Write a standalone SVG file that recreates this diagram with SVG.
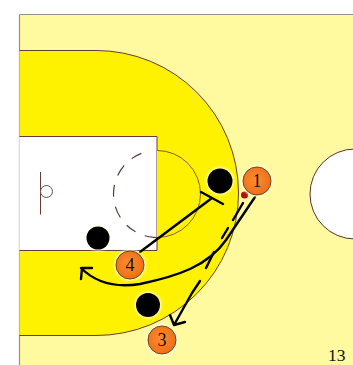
<svg xmlns="http://www.w3.org/2000/svg" width="353" height="365" viewBox="0 0 353 365">
<defs><style>
.line{fill:none;stroke:#6a3a32;stroke-width:1}
.conn{fill:none;stroke:#000;stroke-width:2.4;stroke-linecap:round;stroke-linejoin:round}
.def{fill:#000}
.halo{fill:#fffde0;opacity:.75;filter:url(#glow)}
.pl{fill:url(#orange);stroke:#6a4a20;stroke-width:1}
text{font-family:"Liberation Serif","Times New Roman",serif;fill:#111}
.num{font-size:18px;text-anchor:middle}
</style>
<radialGradient id="orange" cx=".45" cy=".45" r=".6"><stop offset="0" stop-color="#fb8c34"/><stop offset="1" stop-color="#ef6c12"/></radialGradient>
<filter id="soft" x="-10%" y="-10%" width="120%" height="120%"><feGaussianBlur stdDeviation="0.35"/></filter>
<filter id="glow" x="-30%" y="-30%" width="160%" height="160%"><feGaussianBlur stdDeviation="1.2"/></filter></defs>
<rect width="353" height="365" fill="#fff"/>
<g id="court" filter="url(#soft)">
<path d="M19.5 14.5H353V365H19.5Z" fill="#fff9a0"/>
<path d="M19.5 14.5H353M19.5 14.5V365" fill="none" stroke="#9a8f86" stroke-width="1.2"/>
<path d="M19.5 50.5H96A142.500 142.500 0 0 1 96 335.500H19.500Z" fill="#fff200"/>
<path d="M19.5 50.5H96A142.500 142.500 0 0 1 96 335.500H19.500" class="line"/>
<rect x="19.500" y="136.500" width="137.500" height="114" fill="#fff"/>
<path d="M19.5 136.500H157V250.500H19.500" class="line"/>
<path d="M157 150.500A43.500 43.500 0 0 1 157 237.500" fill="#fff200" stroke="#8a5a20" stroke-width="1"/>
<path d="M157 150.500A43.500 43.500 0 0 0 157 237.500" fill="none" stroke="#5a3a3a" stroke-width="1.200" stroke-dasharray="0 16 11 10 12 10 12 10 12 10 11 10 9"/>
<path d="M40.500 172V214.500" class="line"/>
<circle cx="46.500" cy="191.500" r="6" fill="#fff" stroke="#6a4a4a"/>
<circle cx="355" cy="194" r="45" fill="#fff" stroke="#5a3030"/>
</g>
<g id="connectors" filter="url(#soft)">
<path class="conn" d="M140 252L212 198M201 192L223 204"/>
<path class="conn" d="M255 197L226 240C208 266 178 276 140 284C115 288 95 282 81 268M92 268L82 268L81 279"/>
<path class="conn" d="M243 203L233 220M228 228L222 238M214 252L206 268M200 281L192 293M192 293L174 325M185 322L174 325L170 315"/>
</g>
<g id="ball"><circle cx="244.500" cy="195" r="3.500" fill="#b01010"/></g>
<g id="defender-a"><circle class="halo" cx="220" cy="181" r="14"/><circle class="def" cx="220" cy="181" r="12.500"/></g>
<g id="defender-b"><circle class="halo" cx="98" cy="238" r="13"/><circle class="def" cx="98" cy="238" r="11.500"/></g>
<g id="defender-c"><circle class="halo" cx="148" cy="305" r="13.500"/><circle class="def" cx="148" cy="305" r="12"/></g>
<g id="player-1"><circle class="halo" cx="257" cy="181" r="16"/><circle class="pl" cx="257" cy="181" r="14"/><text class="num" x="257" y="187">1</text></g>
<g id="player-4"><circle class="halo" cx="130" cy="265" r="16"/><circle class="pl" cx="130" cy="265" r="14"/><text class="num" x="130" y="271">4</text></g>
<g id="player-3"><circle class="halo" cx="162" cy="340" r="16"/><circle class="pl" cx="162" cy="340" r="14"/><text class="num" x="162" y="346">3</text></g>
<g id="page-number"><text x="328" y="361" font-size="17.500">13</text></g>
</svg>
